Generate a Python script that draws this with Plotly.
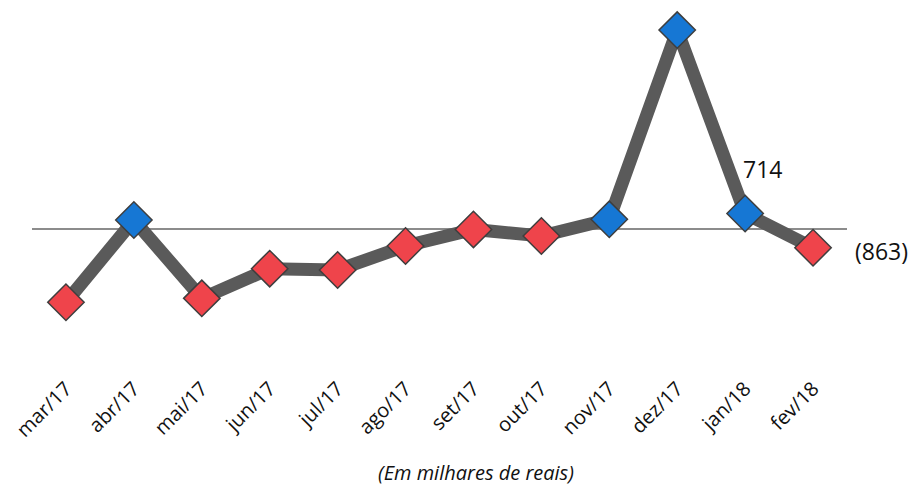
import plotly.graph_objects as go

months = ["mar/17", "abr/17", "mai/17", "jun/17", "jul/17", "ago/17",
          "set/17", "out/17", "nov/17", "dez/17", "jan/18", "fev/18"]
values = [-3370, 414, -3190, -1825, -1886, -782, -20, -322, 446, 9150, 714, -863]

RED = "#EF444B"
BLUE = "#1677D4"
colors = [BLUE if v > 0 else RED for v in values]

fig = go.Figure()
fig.add_trace(go.Scatter(
    x=months, y=values, mode="lines+markers",
    line=dict(color="#5A5A5A", width=13),
    marker=dict(symbol="diamond", size=28, color=colors,
                line=dict(color="#3E3E3E", width=1.5)),
    hoverinfo="x+y", showlegend=False,
))

# value labels for the last two points
fig.add_annotation(x=months[10], y=values[10], text=str(values[10]),
                   showarrow=False, xshift=17, yshift=44,
                   font=dict(size=23, color="#111"))
fig.add_annotation(x=months[11], y=values[11], text="(%d)" % abs(values[11]),
                   showarrow=False, xanchor="left", xshift=40, yshift=-3,
                   font=dict(size=23, color="#111"))

fig.add_annotation(x=0.5, y=0, xref="paper", yref="paper",
                   xanchor="center", yanchor="middle", xshift=36, yshift=-100,
                   text="<i>(Em milhares de reais)</i>", showarrow=False,
                   font=dict(size=20, color="#111"))

fig.update_layout(
    width=910, height=488,
    margin=dict(l=32, r=63, t=10, b=116),
    paper_bgcolor="white", plot_bgcolor="white",
    font=dict(family="Open Sans, Noto Sans, sans-serif", color="#111"),
    xaxis=dict(showgrid=False, showline=False, ticks="",
               tickangle=-45, tickfont=dict(size=20),
               automargin=False, range=[-0.5, 11.5]),
    yaxis=dict(showgrid=False, showticklabels=False, ticks="",
               zeroline=True, zerolinecolor="#8C8C8C", zerolinewidth=1.5,
               range=[-6578, 10074], automargin=False),
)

fig.write_html("out.html", config={"displayModeBar": False},
               post_script="document.body.style.margin='0px';")
